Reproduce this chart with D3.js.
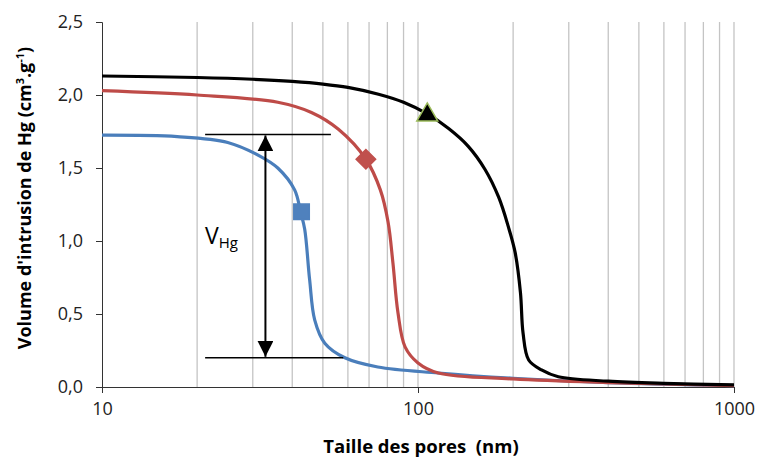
<!DOCTYPE html>
<html>
<head>
<meta charset="utf-8">
<script src="https://cdn.jsdelivr.net/npm/d3@7"></script>
<style>
  body { margin: 0; background: #fff; }
  text { font-family: "Open Sans", Lato, sans-serif; }
</style>
</head>
<body>
<div id="chart"></div>
<script>
// pore size (nm) and intrusion volume (cm3/g)
var blueX = [10, 17.3, 25, 31.7, 36, 40.7, 42.5, 43.8, 45.4, 47.1, 50.7, 58.7, 74.6, 116, 200, 400, 1000];
var blueY = [1.725, 1.715, 1.675, 1.58, 1.50, 1.35, 1.20, 1.08, 0.735, 0.46, 0.30, 0.20, 0.137, 0.096, 0.06, 0.03, 0.01];

var redX = [10, 20, 36, 46, 56, 68.4, 76, 80.4, 83.3, 86.4, 91, 100, 116, 200, 400, 1000];
var redY = [2.03, 2.0, 1.95, 1.88, 1.765, 1.56, 1.35, 1.13, 0.85, 0.51, 0.275, 0.165, 0.096, 0.055, 0.03, 0.01];

var blackX = [10, 20, 30, 40, 50, 60, 75, 90, 107, 125, 144, 163, 180, 193, 203, 211, 215, 224, 246, 278, 400, 600, 1000];
var blackY = [2.13, 2.12, 2.108, 2.093, 2.075, 2.052, 2.005, 1.95, 1.87, 1.77, 1.65, 1.49, 1.30, 1.10, 0.92, 0.645, 0.37, 0.185, 0.117, 0.07, 0.04, 0.025, 0.015];

// marker points
var markers = [
  {x: 42.8, y: 1.2, shape: "square", fill: "#4F81BD", stroke: "#4F81BD"},
  {x: 68.4, y: 1.56, shape: "diamond", fill: "#C0504D", stroke: "#C0504D"},
  {x: 107, y: 1.87, shape: "triangle", fill: "#000000", stroke: "#9BBB59"}
];

var yTicks = [0, 0.5, 1, 1.5, 2, 2.5];
var xTicks = [10, 100, 1000];
var gridX = [20, 30, 40, 50, 60, 70, 80, 90, 100, 200, 300, 400, 500, 600, 700, 800, 900, 1000];

// V_Hg annotation: top / bottom levels
var vhgTop = 1.73, vhgBottom = 0.2;

function init()
{
  var w = 760, h = 459;
  var left = 102, right = 734, top = 22, bottom = 387;

  var svg = d3.select("#chart").append("svg")
              .attr("width", w).attr("height", h);

  var x = d3.scaleLog().domain([10, 1000]).range([left, right]);
  var y = d3.scaleLinear().domain([0, 2.5]).range([bottom, top]);

  // vertical grid
  svg.selectAll("line.grid")
     .data(gridX)
     .enter()
     .append("line")
     .attr("class", "grid")
     .attr("x1", function(d){ return x(d); })
     .attr("x2", function(d){ return x(d); })
     .attr("y1", top)
     .attr("y2", bottom)
     .attr("stroke", "#C4C4C4")
     .attr("stroke-width", 1.3);

  // axes
  var fmt = function(d){ return d3.format(".1f")(d).replace(".", ","); };
  var yAxis = svg.append("g")
     .attr("transform", "translate(" + left + ",0)")
     .call(d3.axisLeft(y).tickValues(yTicks).tickFormat(fmt).tickSize(6).tickPadding(13));
  yAxis.select(".domain").attr("stroke", "#333");
  yAxis.selectAll(".tick line").attr("stroke", "#333");
  yAxis.selectAll("text").attr("font-size", 18).attr("fill", "#222")
       .attr("font-family", "Open Sans, sans-serif");

  var xAxis = svg.append("g")
     .attr("transform", "translate(0," + bottom + ")")
     .call(d3.axisBottom(x).tickValues(xTicks).tickFormat(d3.format("d")).tickSize(6).tickPadding(9));
  xAxis.select(".domain").attr("stroke", "#333");
  xAxis.selectAll(".tick line").attr("stroke", "#333");
  xAxis.selectAll("text").attr("font-size", 18).attr("fill", "#222")
       .attr("font-family", "Open Sans, sans-serif");

  // curves
  var line = d3.line()
     .x(function(d){ return x(d[0]); })
     .y(function(d){ return y(d[1]); })
     .curve(d3.curveCatmullRom.alpha(0.5));

  var series = [
    {xs: blueX, ys: blueY, color: "#4A7EBB"},
    {xs: redX, ys: redY, color: "#BE4B48"},
    {xs: blackX, ys: blackY, color: "#000000"}
  ];

  series.forEach(function(s){
    svg.append("path")
       .datum(d3.zip(s.xs, s.ys))
       .attr("d", line)
       .attr("fill", "none")
       .attr("stroke", s.color)
       .attr("stroke-width", 3.2);
  });

  // markers
  var sym = {square: d3.symbolSquare, diamond: d3.symbolSquare, triangle: d3.symbolTriangle};
  var size = {square: 240, diamond: 190, triangle: 190};
  svg.selectAll("path.marker")
     .data(markers)
     .enter()
     .append("path")
     .attr("class", "marker")
     .attr("d", function(d){ return d3.symbol().type(sym[d.shape]).size(size[d.shape])(); })
     .attr("transform", function(d){
        var t = "translate(" + x(d.x) + "," + y(d.y) + ")";
        if(d.shape == "diamond") t += " rotate(45)";
        if(d.shape == "triangle") t += " translate(0,1)";
        return t;
     })
     .attr("fill", function(d){ return d.fill; })
     .attr("stroke", function(d){ return d.stroke; })
     .attr("stroke-width", 1.5);

  // V_Hg annotation
  svg.append("defs").append("marker")
     .attr("id", "arr")
     .attr("viewBox", "0 0 10 10")
     .attr("refX", 10).attr("refY", 5)
     .attr("markerWidth", 16).attr("markerHeight", 16)
     .attr("markerUnits", "userSpaceOnUse")
     .attr("orient", "auto-start-reverse")
     .append("path")
     .attr("d", "M0,0 L10,5 L0,10 Z")
     .attr("fill", "#000");

  svg.append("line")
     .attr("x1", x(21.2)).attr("x2", x(53))
     .attr("y1", y(vhgTop)).attr("y2", y(vhgTop))
     .attr("stroke", "#000").attr("stroke-width", 1.5);
  svg.append("line")
     .attr("x1", x(21.2)).attr("x2", x(58))
     .attr("y1", y(vhgBottom)).attr("y2", y(vhgBottom))
     .attr("stroke", "#000").attr("stroke-width", 1.5);
  svg.append("line")
     .attr("x1", x(32.9)).attr("x2", x(32.9))
     .attr("y1", y(vhgTop) + 1).attr("y2", y(vhgBottom) - 1)
     .attr("stroke", "#000").attr("stroke-width", 2)
     .attr("marker-start", "url(#arr)")
     .attr("marker-end", "url(#arr)");

  var vt = svg.append("text")
     .attr("x", 205).attr("y", 244)
     .attr("font-size", 23).attr("fill", "#000");
  vt.append("tspan").text("V");
  vt.append("tspan").attr("font-size", 15).attr("dy", 4).text("Hg");

  // axis titles
  svg.append("text")
     .attr("x", 421).attr("y", 453)
     .attr("text-anchor", "middle")
     .attr("font-size", 18.5).attr("font-weight", "bold")
     .attr("xml:space", "preserve")
     .text("Taille des pores  (nm)");

  var yt = svg.append("text")
     .attr("transform", "translate(31,198) rotate(-90)")
     .attr("text-anchor", "middle")
     .attr("font-size", 18).attr("font-weight", "bold");
  yt.append("tspan").text("Volume d'intrusion de Hg (cm");
  yt.append("tspan").attr("font-size", 11).attr("dy", -7).text("3");
  yt.append("tspan").attr("dy", 7).text(".g");
  yt.append("tspan").attr("font-size", 11).attr("dy", -7).text("-1");
  yt.append("tspan").attr("dy", 7).text(")");
}

window.onload = init;
</script>
</body>
</html>
